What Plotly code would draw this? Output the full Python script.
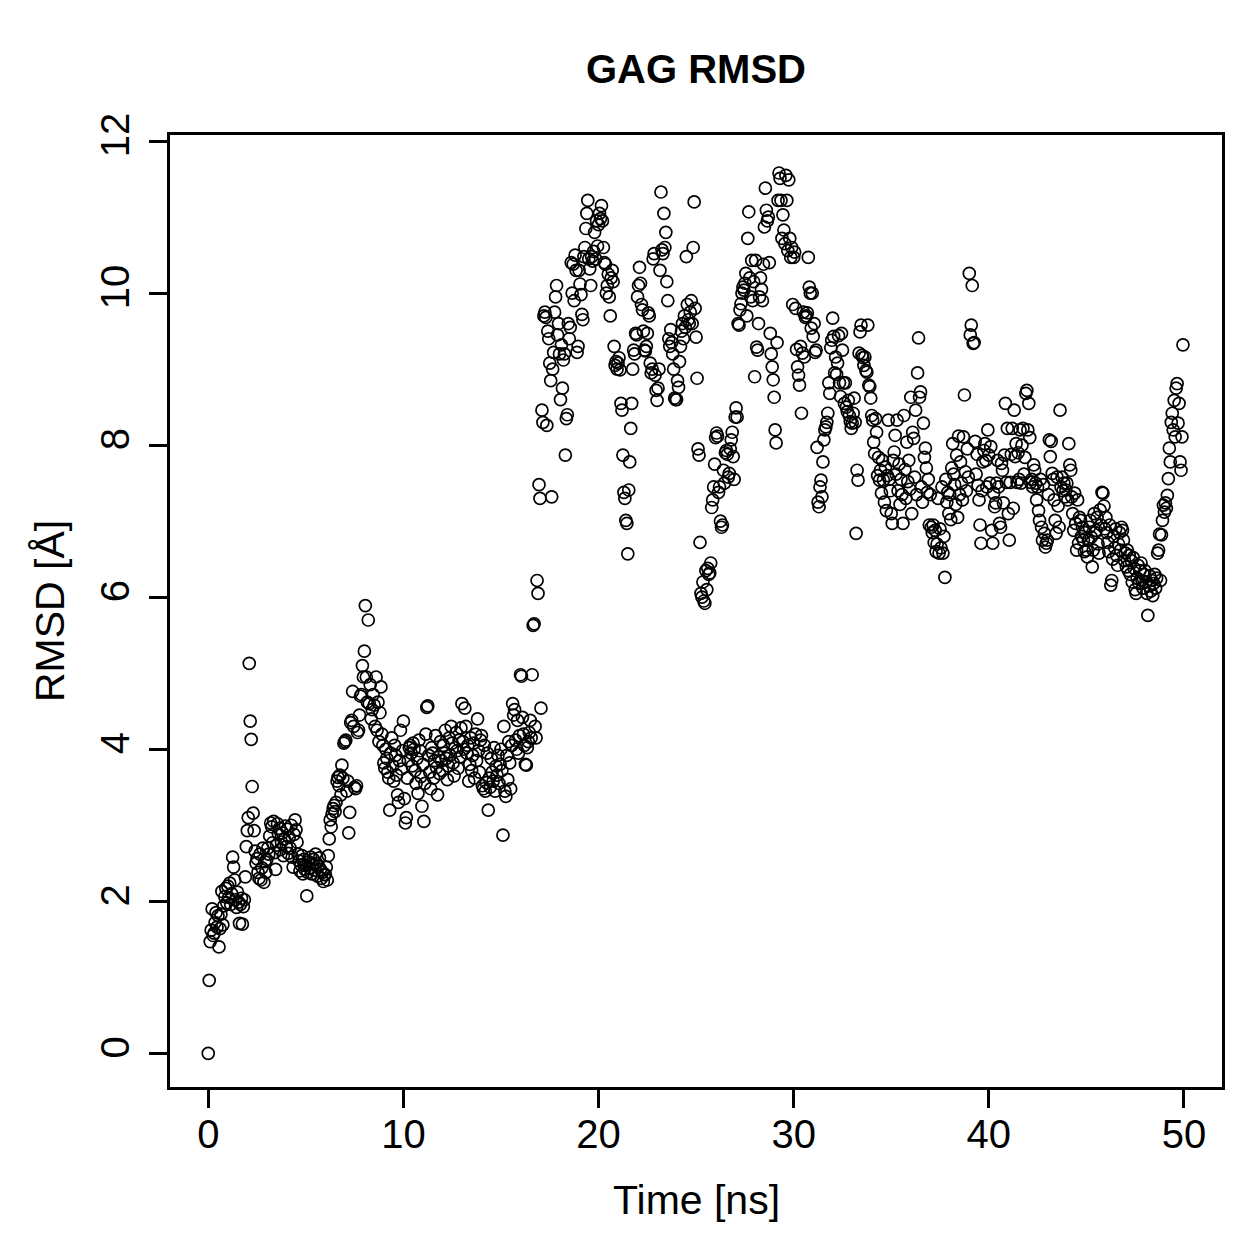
import plotly.graph_objects as go

# RMSD values (Å), one row per nanosecond, sampled every 0.05 ns
rmsd_rows = [
    [0.00, 0.96, 1.47, 1.62, 1.90, 1.55, 1.58, 1.72, 1.85, 1.66, 1.81, 1.40, 1.64, 1.83, 2.13, 1.69, 1.94, 2.06, 2.17, 1.98],
    [2.20, 2.05, 2.24, 1.96, 2.10, 2.58, 2.45, 2.28, 2.02, 1.92, 2.12, 1.99, 1.71, 1.96, 2.04, 1.70, 1.93, 2.02, 2.32, 2.72],
    [2.93, 3.10, 5.13, 4.37, 4.13, 3.51, 3.16, 2.93, 2.66, 2.50, 2.56, 2.38, 2.30, 2.62, 2.28, 2.44, 2.70, 2.25, 2.52, 2.38],
    [2.55, 2.70, 2.62, 2.86, 3.03, 2.98, 2.77, 3.05, 2.64, 2.42, 2.74, 3.02, 2.88, 2.96, 2.68, 2.78, 2.90, 2.60, 2.82, 2.99],
    [2.72, 2.95, 2.63, 2.84, 2.70, 3.00, 2.58, 2.45, 2.88, 3.07, 2.94, 2.78, 2.62, 2.53, 2.40, 2.48, 2.60, 2.36, 2.55, 2.42],
    [2.47, 2.07, 2.38, 2.52, 2.44, 2.58, 2.36, 2.49, 2.55, 2.41, 2.62, 2.50, 2.33, 2.46, 2.57, 2.42, 2.30, 2.38, 2.26, 2.35],
    [2.35, 2.45, 2.28, 2.60, 2.82, 3.07, 2.98, 3.15, 3.22, 3.26, 3.18, 3.30, 3.58, 3.63, 3.52, 3.66, 3.40, 3.79, 3.62, 4.08],
    [4.10, 4.12, 3.45, 3.58, 2.90, 3.17, 4.35, 4.38, 4.76, 4.30, 3.50, 3.48, 3.52, 4.22, 4.25, 4.45, 4.70, 4.72, 5.10, 4.95],
    [5.29, 5.89, 4.95, 4.62, 5.70, 4.60, 4.85, 4.40, 4.52, 4.72, 4.58, 4.30, 4.95, 4.25, 4.62, 4.10, 4.48, 4.82, 4.20, 4.05],
    [3.82, 3.75, 4.00, 3.88, 3.70, 3.62, 3.20, 3.95, 4.15, 3.78, 3.58, 4.05, 3.92, 3.66, 3.40, 3.30, 3.85, 4.25, 3.74, 3.98],
    [4.37, 3.35, 3.03, 3.10, 3.62, 3.85, 4.02, 4.05, 3.95, 3.78, 4.08, 4.00, 3.72, 3.55, 3.88, 3.42, 4.12, 3.98, 3.64, 3.25],
    [3.80, 3.05, 3.55, 4.20, 4.55, 4.57, 3.92, 3.70, 3.48, 4.02, 3.95, 3.62, 3.85, 4.18, 3.76, 3.40, 3.90, 3.68, 4.10, 3.85],
    [3.72, 4.05, 3.95, 4.25, 3.88, 3.60, 3.78, 4.15, 3.92, 4.30, 4.08, 3.82, 3.65, 4.02, 4.22, 3.98, 3.75, 4.12, 3.90, 4.28],
    [4.60, 4.10, 4.00, 4.54, 4.30, 3.95, 4.05, 3.58, 3.80, 4.15, 3.72, 3.92, 4.08, 3.62, 4.20, 3.85, 4.40, 3.98, 3.70, 4.12],
    [4.18, 3.52, 3.48, 4.05, 3.45, 3.56, 3.95, 3.20, 3.62, 3.50, 3.88, 3.70, 3.58, 4.02, 3.45, 3.78, 3.66, 3.92, 3.55, 3.80],
    [4.00, 3.72, 2.87, 4.30, 3.45, 3.38, 3.92, 3.60, 4.10, 3.82, 3.48, 4.05, 4.60, 4.45, 4.52, 4.12, 4.00, 4.38, 3.95, 4.18],
    [4.98, 4.96, 4.42, 4.20, 4.05, 3.80, 3.79, 4.02, 4.10, 4.22, 4.38, 4.15, 4.98, 5.63, 5.65, 4.30, 4.15, 6.22, 6.05, 7.48],
    [7.30, 4.54, 8.46, 8.30, 9.70, 9.75, 9.68, 8.26, 9.50, 9.40, 9.08, 8.85, 7.32, 9.00, 9.22, 9.75, 9.95, 10.10, 9.45, 9.60],
    [9.20, 8.60, 9.32, 8.75, 9.12, 9.20, 7.87, 8.35, 8.40, 9.60, 9.40, 9.55, 10.40, 10.00, 10.38, 9.90, 10.50, 10.30, 9.22, 9.30],
    [10.30, 10.12, 9.98, 9.72, 9.65, 10.48, 10.60, 10.85, 11.05, 11.22, 10.45, 10.32, 10.10, 10.48, 10.42, 10.55, 10.80, 10.45, 10.95, 10.62],
    [10.90, 11.05, 10.98, 11.15, 10.95, 10.60, 10.40, 10.38, 10.00, 10.10, 10.25, 9.95, 9.70, 10.20, 10.30, 10.15, 9.30, 9.05, 9.10, 9.00],
    [9.08, 9.15, 8.99, 8.55, 8.46, 7.87, 7.38, 7.30, 7.01, 6.97, 6.57, 7.41, 7.78, 8.22, 8.55, 9.00, 9.25, 9.20, 9.47, 9.45],
    [9.95, 10.10, 10.34, 10.13, 9.85, 9.78, 9.50, 9.25, 9.24, 9.30, 9.47, 9.74, 9.70, 9.08, 8.95, 9.00, 10.45, 10.52, 8.92, 8.72],
    [8.59, 8.75, 9.00, 10.30, 11.33, 10.57, 10.52, 11.05, 10.60, 10.80, 10.15, 9.90, 9.40, 9.30, 9.52, 9.35, 9.20, 9.00, 8.62, 8.60],
    [8.60, 8.85, 8.76, 9.10, 9.30, 9.50, 9.60, 9.40, 9.70, 9.55, 10.48, 9.85, 9.65, 9.60, 9.75, 9.90, 9.60, 10.60, 11.20, 9.80],
    [9.42, 8.88, 7.95, 7.87, 6.72, 6.05, 6.00, 6.20, 5.95, 5.92, 6.35, 6.10, 6.38, 6.30, 6.32, 6.45, 7.18, 7.28, 7.45, 7.75],
    [8.10, 8.16, 8.12, 7.38, 7.45, 7.00, 6.92, 6.95, 7.67, 7.50, 7.90, 7.93, 7.88, 7.58, 7.63, 7.95, 8.07, 8.17, 7.85, 7.55],
    [8.37, 8.49, 8.37, 9.60, 9.58, 9.78, 9.86, 10.00, 10.08, 10.04, 10.13, 10.26, 9.70, 10.72, 11.07, 10.20, 9.95, 10.43, 9.90, 10.15],
    [8.90, 10.43, 9.29, 9.25, 9.60, 9.95, 10.20, 10.05, 9.90, 10.38, 10.87, 11.38, 11.09, 10.95, 11.00, 10.40, 9.47, 9.20, 9.03, 8.86],
    [8.63, 8.20, 8.03, 9.35, 11.22, 11.58, 11.51, 11.22, 10.72, 11.03, 10.83, 10.65, 11.55, 11.22, 10.56, 11.49, 10.72, 10.47, 10.60, 9.85],
    [10.47, 10.54, 9.80, 9.26, 9.03, 8.92, 8.79, 9.30, 8.42, 9.21, 9.75, 9.16, 9.68, 9.70, 9.74, 10.47, 10.08, 10.00, 9.54, 10.00],
    [9.43, 9.60, 9.22, 9.25, 7.97, 7.25, 7.19, 7.45, 7.54, 7.32, 7.78, 8.07, 8.20, 8.24, 8.30, 8.42, 8.82, 8.68, 9.28, 9.38],
    [9.67, 9.43, 8.95, 9.16, 8.93, 9.08, 9.44, 8.82, 8.64, 9.47, 9.25, 8.82, 8.55, 8.82, 8.50, 8.44, 8.59, 8.39, 8.31, 8.22],
    [8.29, 8.42, 8.62, 8.30, 6.84, 7.67, 7.54, 9.21, 9.49, 9.58, 9.18, 9.15, 9.05, 9.16, 8.98, 8.96, 9.58, 8.79, 8.77, 8.62],
    [8.39, 8.33, 8.04, 7.89, 8.35, 8.17, 7.60, 7.84, 7.54, 7.67, 7.37, 7.80, 7.54, 7.25, 7.71, 7.14, 7.60, 8.33, 7.55, 7.40],
    [7.10, 6.97, 7.80, 7.91, 8.13, 7.62, 8.33, 7.40, 7.75, 7.22, 7.55, 7.35, 6.97, 8.39, 7.68, 7.30, 8.04, 7.52, 7.80, 7.42],
    [8.63, 7.10, 8.17, 8.09, 7.58, 8.46, 7.35, 8.95, 9.41, 8.63, 8.70, 7.45, 7.25, 8.29, 7.84, 7.96, 7.70, 7.38, 7.55, 6.95],
    [7.35, 6.92, 6.85, 6.95, 6.72, 6.88, 6.60, 6.70, 7.30, 6.58, 6.90, 6.65, 7.45, 6.58, 6.80, 6.26, 7.55, 7.25, 7.38, 7.10],
    [7.35, 7.02, 7.70, 8.02, 7.62, 7.48, 7.22, 7.87, 7.05, 8.12, 7.35, 7.78, 7.50, 7.28, 8.11, 8.66, 7.65, 7.40, 7.95, 7.58],
    [10.26, 9.45, 9.58, 10.10, 9.34, 9.35, 8.05, 7.62, 7.88, 7.47, 7.28, 6.95, 6.71, 7.40, 7.78, 7.93, 8.02, 7.80, 7.45, 8.20],
    [7.87, 7.50, 7.98, 6.88, 6.71, 7.37, 7.19, 7.24, 7.50, 7.80, 7.45, 6.97, 6.92, 7.76, 7.67, 7.24, 7.87, 8.55, 7.51, 8.22],
    [7.10, 6.75, 7.51, 7.88, 8.22, 7.17, 8.46, 7.85, 8.02, 7.51, 7.90, 7.55, 8.20, 7.50, 8.00, 8.22, 7.62, 7.84, 8.68, 8.72],
    [8.20, 8.55, 8.10, 7.51, 7.55, 7.45, 7.74, 7.67, 7.50, 7.28, 7.45, 7.14, 7.01, 7.55, 6.92, 6.75, 7.48, 6.84, 6.66, 6.71],
    [6.75, 7.35, 8.07, 7.85, 8.05, 7.63, 7.55, 7.28, 7.01, 6.84, 7.58, 7.20, 6.92, 8.46, 7.45, 7.58, 7.40, 7.50, 7.32, 7.41],
    [7.50, 7.28, 8.02, 7.74, 7.67, 7.32, 7.10, 6.88, 7.37, 6.97, 6.62, 7.28, 6.71, 7.05, 7.01, 6.80, 6.92, 6.75, 6.60, 6.85],
    [6.62, 6.53, 6.75, 6.92, 7.01, 6.79, 6.40, 6.62, 7.10, 6.85, 6.88, 7.05, 6.70, 6.58, 7.15, 6.95, 7.38, 7.37, 7.20, 6.90],
    [7.05, 6.85, 6.72, 6.60, 6.95, 6.16, 6.22, 6.50, 6.80, 6.65, 6.90, 6.55, 6.42, 6.70, 6.85, 6.62, 6.92, 6.88, 6.75, 6.48],
    [6.58, 6.40, 6.62, 6.35, 6.55, 6.30, 6.48, 6.20, 6.52, 6.38, 6.10, 6.05, 6.25, 6.42, 6.18, 6.35, 6.45, 6.22, 6.12, 6.30],
    [6.35, 6.20, 6.05, 5.76, 6.15, 6.28, 6.08, 6.22, 6.02, 6.18, 6.30, 6.12, 6.25, 6.58, 6.62, 6.83, 6.22, 6.82, 7.01, 7.21],
    [7.12, 7.24, 7.17, 7.34, 7.56, 7.96, 7.78, 8.30, 8.42, 8.20, 8.59, 8.11, 8.75, 8.81, 8.29, 8.55, 7.78, 7.67, 8.11, 9.32],
]

sample_step_ns = 0.05
time_ns = []
rmsd = []
for ns, row in enumerate(rmsd_rows):
    for k, v in enumerate(row):
        time_ns.append(round(ns + k * sample_step_ns, 3))
        rmsd.append(v)

x_ticks = [0, 10, 20, 30, 40, 50]
y_ticks = [0, 2, 4, 6, 8, 10, 12]

FONT = "Liberation Sans, Arial, Helvetica, sans-serif"

fig = go.Figure()
fig.add_trace(go.Scatter(
    x=time_ns, y=rmsd, mode="markers",
    marker=dict(symbol="circle-open", size=12, color="black",
                line=dict(width=1.7, color="black")),
    showlegend=False, hoverinfo="x+y",
))

axis_common = dict(
    showgrid=False, zeroline=False, showline=True, linecolor="black",
    linewidth=2.5, mirror=True, ticks="outside", ticklen=18, tickwidth=2.5,
    tickcolor="black", tickfont=dict(family=FONT, size=40, color="black"),
)

fig.update_layout(
    width=1259, height=1259,
    margin=dict(l=170, r=37, t=135, b=172),
    paper_bgcolor="white", plot_bgcolor="white",
    xaxis=dict(range=[-1.96, 51.95], tickvals=x_ticks, ticklabelstandoff=-8, **axis_common),
    yaxis=dict(range=[-0.443, 12.08], tickvals=y_ticks, tickangle=-90,
               ticklabelstandoff=4, **axis_common),
    annotations=[
        dict(text="<b>GAG RMSD</b>", xref="paper", yref="paper", x=0.5, y=1.069,
             showarrow=False, font=dict(family=FONT, size=40, color="black"),
             xanchor="center", yanchor="middle"),
        dict(text="Time [ns]", xref="paper", yref="paper", x=0.5, y=-0.1187,
             showarrow=False, font=dict(family=FONT, size=41, color="black"),
             xanchor="center", yanchor="middle"),
        dict(text="RMSD [Å]", xref="paper", yref="paper", x=-0.114, y=0.5,
             showarrow=False, textangle=-90, font=dict(family=FONT, size=41, color="black"),
             xanchor="center", yanchor="middle"),
    ],
)

fig.write_html("out.html")
